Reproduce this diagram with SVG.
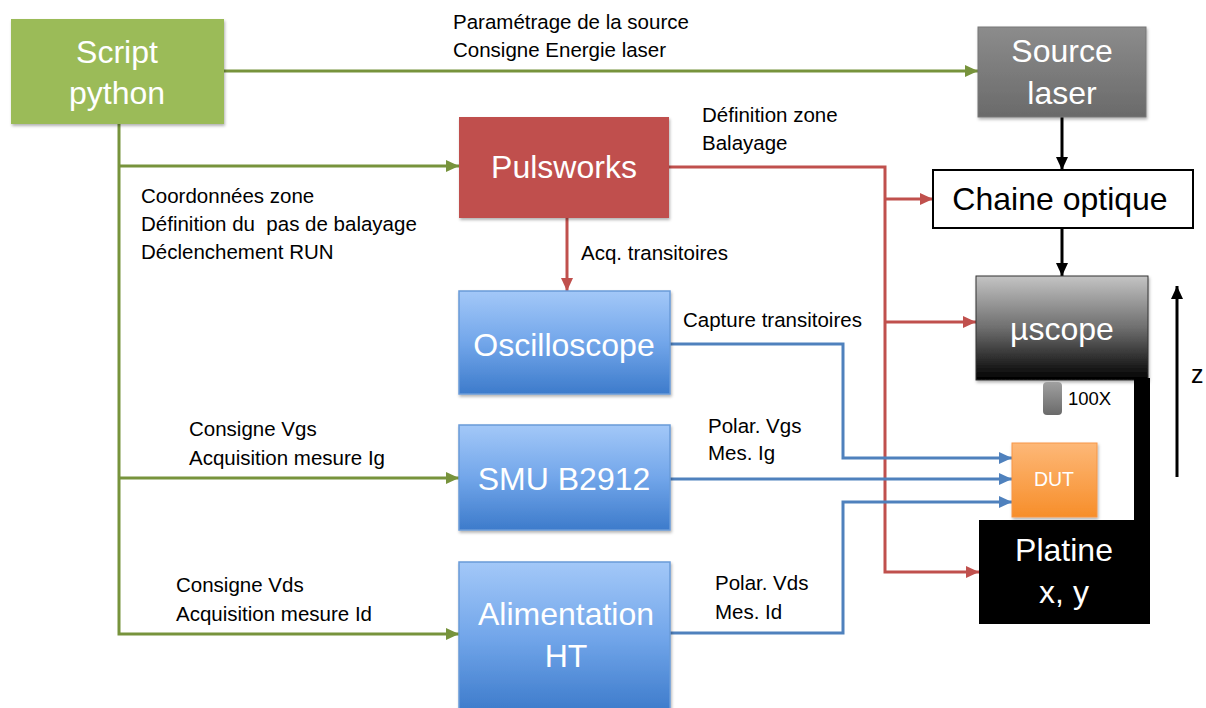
<svg xmlns="http://www.w3.org/2000/svg" width="1206" height="708" viewBox="0 0 1206 708">
<defs>
<linearGradient id="gBlue" x1="0" y1="0" x2="0" y2="1"><stop offset="0" stop-color="#A3C8F8"/><stop offset="0.5" stop-color="#72A6EA"/><stop offset="1" stop-color="#3D7BCB"/></linearGradient>
<linearGradient id="gGray" x1="0" y1="0" x2="0" y2="1"><stop offset="0" stop-color="#8C8C8C"/><stop offset="1" stop-color="#6A6A6A"/></linearGradient>
<linearGradient id="gScope" x1="0" y1="0" x2="0" y2="1"><stop offset="0" stop-color="#C4C4C4"/><stop offset="0.5" stop-color="#6E6E6E"/><stop offset="1" stop-color="#000000"/></linearGradient>
<linearGradient id="gObj" x1="0" y1="0" x2="0" y2="1"><stop offset="0" stop-color="#A0A0A0"/><stop offset="1" stop-color="#6A6A6A"/></linearGradient>
<linearGradient id="gDut" x1="0" y1="0" x2="0" y2="1"><stop offset="0" stop-color="#FDB878"/><stop offset="1" stop-color="#F78E2A"/></linearGradient>
<filter id="sh" x="-10%" y="-10%" width="125%" height="130%"><feDropShadow dx="1" dy="2" stdDeviation="1.5" flood-color="#000" flood-opacity="0.3"/></filter>
<marker id="aG" markerUnits="userSpaceOnUse" markerWidth="14" markerHeight="12" refX="13" refY="6" orient="auto"><path d="M0,0 L13,6 L0,12 z" fill="#77933C"/></marker>
<marker id="aR" markerUnits="userSpaceOnUse" markerWidth="14" markerHeight="12" refX="13" refY="6" orient="auto"><path d="M0,0 L13,6 L0,12 z" fill="#C0504D"/></marker>
<marker id="aB" markerUnits="userSpaceOnUse" markerWidth="14" markerHeight="12" refX="13" refY="6" orient="auto"><path d="M0,0 L13,6 L0,12 z" fill="#4F81BD"/></marker>
<marker id="aK" markerUnits="userSpaceOnUse" markerWidth="14" markerHeight="12" refX="13" refY="6" orient="auto"><path d="M0,0 L13,6 L0,12 z" fill="#000"/></marker>
</defs>
<style>
.big{font-family:"Liberation Sans",Arial,sans-serif;font-size:32px;fill:#fff;text-anchor:middle}
.lbl{font-family:"Liberation Sans",Arial,sans-serif;font-size:20.5px;fill:#000}
.g{fill:none;stroke:#77933C;stroke-width:3}
.r{fill:none;stroke:#C0504D;stroke-width:3}
.b{fill:none;stroke:#4F81BD;stroke-width:3}
.k{fill:none;stroke:#000;stroke-width:3}
</style>
<rect width="1206" height="708" fill="#fff"/>

<g id="connectors">
<path class="g" d="M224,71 H978" marker-end="url(#aG)"/>
<path class="g" d="M119,124 V634 H459" marker-end="url(#aG)"/>
<path class="g" d="M119,166 H459" marker-end="url(#aG)"/>
<path class="g" d="M119,478 H459" marker-end="url(#aG)"/>
<path class="r" d="M669,167 H885 V572 H979" marker-end="url(#aR)"/>
<path class="r" d="M885,199 H933" marker-end="url(#aR)"/>
<path class="r" d="M885,322 H976" marker-end="url(#aR)"/>
<path class="r" d="M567,218 V291" marker-end="url(#aR)"/>
<path class="b" d="M670,344 H843 V458 H1012" marker-end="url(#aB)"/>
<path class="b" d="M670,479 H1012" marker-end="url(#aB)"/>
<path class="b" d="M670,633 H843 V502 H1012" marker-end="url(#aB)"/>
<path class="k" d="M1062,117 V170" marker-end="url(#aK)"/>
<path class="k" d="M1062,228 V276" marker-end="url(#aK)"/>
<path class="k" d="M1177,477 V286" marker-end="url(#aK)"/>
</g>

<g id="script">
<rect x="11" y="19" width="213" height="105" fill="#9BBB59" filter="url(#sh)"/>
<text class="big" x="117" y="63">Script</text>
<text class="big" x="117" y="104">python</text>
</g>
<g id="source">
<rect x="978" y="27" width="168" height="90" fill="url(#gGray)" stroke="#777" stroke-width="1" filter="url(#sh)"/>
<text class="big" x="1062" y="62">Source</text>
<text class="big" x="1062" y="104">laser</text>
</g>
<g id="pulsworks">
<rect x="459" y="117" width="210" height="101" fill="#C0504D" filter="url(#sh)"/>
<text class="big" x="564" y="178">Pulsworks</text>
</g>
<g id="chaine">
<rect x="933" y="170" width="260" height="58" fill="#fff" stroke="#000" stroke-width="2"/>
<text class="big" x="1060" y="210" style="fill:#000">Chaine optique</text>
</g>
<g id="uscope">
<rect x="976" y="276" width="172" height="104" fill="url(#gScope)" stroke="#333" stroke-width="1" filter="url(#sh)"/>
<text class="big" x="1062" y="340">µscope</text>
</g>
<g id="objective">
<rect x="1043" y="382" width="19" height="33" rx="4" fill="url(#gObj)"/>
<text x="1068" y="405" style="font-family:'Liberation Sans',Arial,sans-serif;font-size:18.5px;fill:#000">100X</text>
</g>
<g id="platine">
<rect x="1134" y="378" width="16" height="146" fill="#000"/>
<rect x="979" y="520" width="171" height="104" fill="#000"/>
<text class="big" x="1064" y="561">Platine</text>
<text class="big" x="1064" y="603">x, y</text>
</g>
<g id="dut">
<rect x="1012" y="443" width="85" height="74" fill="url(#gDut)" stroke="#F79646" stroke-width="1" filter="url(#sh)"/>
<text x="1054" y="486" style="font-family:'Liberation Sans',Arial,sans-serif;font-size:19.5px;fill:#fff;text-anchor:middle">DUT</text>
</g>
<g id="z">
<text x="1191" y="383" style="font-family:'Liberation Sans',Arial,sans-serif;font-size:25px;fill:#000">z</text>
</g>
<g id="oscilloscope">
<rect x="459" y="291" width="211" height="103" fill="url(#gBlue)" stroke="#6A9BD8" stroke-width="1.5" filter="url(#sh)"/>
<text class="big" x="564" y="356">Oscilloscope</text>
</g>
<g id="smu">
<rect x="459" y="425" width="211" height="105" fill="url(#gBlue)" stroke="#6A9BD8" stroke-width="1.5" filter="url(#sh)"/>
<text class="big" x="564" y="490">SMU B2912</text>
</g>
<g id="alim">
<rect x="459" y="562" width="211" height="150" fill="url(#gBlue)" stroke="#6A9BD8" stroke-width="1.5" filter="url(#sh)"/>
<text class="big" x="566" y="625">Alimentation</text>
<text class="big" x="566" y="667">HT</text>
</g>

<g id="labels">
<text class="lbl" x="453" y="29">Paramétrage de la source</text>
<text class="lbl" x="453" y="57">Consigne Energie laser</text>
<text class="lbl" x="702" y="122">Définition zone</text>
<text class="lbl" x="702" y="150">Balayage</text>
<text class="lbl" x="141" y="203">Coordonnées zone</text>
<text class="lbl" x="141" y="231" xml:space="preserve">Définition du  pas de balayage</text>
<text class="lbl" x="141" y="259">Déclenchement RUN</text>
<text class="lbl" x="581" y="260">Acq. transitoires</text>
<text class="lbl" x="683" y="327">Capture transitoires</text>
<text class="lbl" x="189" y="436">Consigne Vgs</text>
<text class="lbl" x="189" y="465">Acquisition mesure Ig</text>
<text class="lbl" x="708" y="433">Polar. Vgs</text>
<text class="lbl" x="708" y="460">Mes. Ig</text>
<text class="lbl" x="176" y="592">Consigne Vds</text>
<text class="lbl" x="176" y="621">Acquisition mesure Id</text>
<text class="lbl" x="715" y="590">Polar. Vds</text>
<text class="lbl" x="715" y="619">Mes. Id</text>
</g>
</svg>
